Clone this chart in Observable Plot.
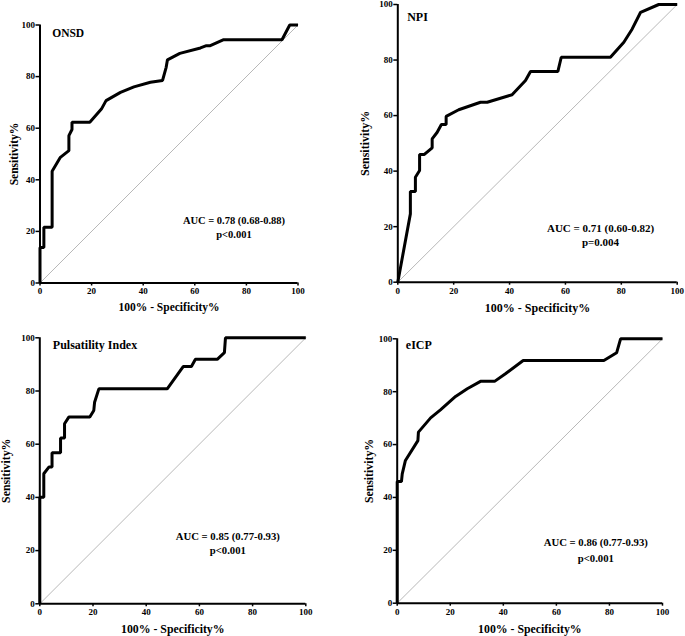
<!DOCTYPE html>
<html><head><meta charset="utf-8">
<script src="https://cdn.jsdelivr.net/npm/d3@7"></script>
<script src="https://cdn.jsdelivr.net/npm/@observablehq/plot@0.6"></script>
<style>
body{margin:0;background:#fff;}
#root{position:relative;width:685px;height:636px;overflow:hidden;background:#fff;}
.panel{position:absolute;}
.panel svg{overflow:visible;display:block;max-width:none;}
</style></head><body><div id="root"></div>
<script>
// ---- data ----
const ticks = [0, 20, 40, 60, 80, 100];
const diagonal = [0, 100];
const xTitle = "100% - Specificity%";
const yTitle = "Sensitivity%";

const onsdFpr  = [0,0,1.5,1.5,4.7,4.7,7.9,11.2,11.2,12.4,12.4,19.3,23.8,25.6,31.2,36.4,42.8,47.5,48.9,49.4,54.2,62.2,64.5,66,71.2,93.8,96.8,100];
const onsdSens = [0,13.8,13.8,21.6,21.6,43.3,48.7,51.3,57.1,59.5,62.3,62.3,67.4,70.7,73.9,76,77.8,78.5,83.6,86.5,89,91.1,92,92,94.3,94.3,100,100];

const npiFpr  = [0,4.5,4.5,6.3,6.3,7.8,7.8,9.5,12.3,12.3,14.1,15.6,17.3,17.3,21.8,29.6,32,40.9,45.7,47.5,57.3,58.5,76.1,80.9,83.9,86.9,93.4,100];
const npiSens = [0,24.6,32.7,32.7,37.8,40.2,46,46,48.4,51.6,54,56.8,56.8,59.7,62.1,64.8,64.8,67.5,72.6,75.9,75.9,81,81,86.4,91.2,97.2,100,100];

const piFpr  = [0,0,1.5,1.5,3.4,4.6,4.6,7.8,7.8,9.3,9.3,10.9,18.8,20.3,20.6,22.2,47.9,53.9,57,58.5,66.7,69.4,69.8,100];
const piSens = [0,40.1,40.1,48.9,51.4,51.4,56.8,56.8,62.3,62.3,67.7,70.2,70.2,72.7,75.8,80.8,80.8,89.2,89.2,91.9,91.9,94.4,100,100];

const eicpFpr  = [0,0,1.6,1.9,3.1,7.8,8,12.6,16.3,22,26.4,31.4,36.7,40.8,47.5,77.9,82.7,84.2,100];
const eicpSens = [0,46,46,48.9,54,61.5,64.7,70.1,73.1,78.2,81.1,83.9,83.9,86.8,91.8,91.8,94.7,100,100];

const panelNames = ["ONSD", "NPI", "Pulsatility Index", "eICP"];
const aucLines = ["AUC = 0.78 (0.68-0.88)", "AUC = 0.71 (0.60-0.82)", "AUC = 0.85 (0.77-0.93)", "AUC = 0.86 (0.77-0.93)"];
const pLines = ["p<0.001", "p=0.004", "p<0.001", "p<0.001"];
const fprs = [onsdFpr, npiFpr, piFpr, eicpFpr];
const senss = [onsdSens, npiSens, piSens, eicpSens];

// ---- layout ----
const layout = [
  {left:0,   top:0,   w:340, h:320, mL:39.5, mR:42.5, mT:24.5, mB:37.5, nameDx:12.2, nameDy:8.8, nameSize:11.5, aucDx:194, aucDy:195.5, pDy:209.8, aucSize:10.5, xtDy:24.2, ytDx:-25.5, titleSize:11.5},
  {left:340, top:0,   w:345, h:320, mL:57.3, mR:8.3,  mT:4,    mB:38.3, nameDx:9.4,  nameDy:12.7, nameSize:12, aucDx:202.7, aucDy:223.7, pDy:237.7, aucSize:11, xtDy:26.3, ytDx:-32.3, titleSize:12},
  {left:0,   top:320, w:340, h:316, mL:39.3, mR:34.7, mT:17.3, mB:32.7, nameDx:13,   nameDy:7.7, nameSize:12, aucDx:188, aucDy:198.7, pDy:212.7, aucSize:10.7, xtDy:25, ytDx:-33.5, titleSize:11.8},
  {left:340, top:320, w:345, h:316, mL:56.7, mR:23,   mT:18.3, mB:33.3, nameDx:8.6,  nameDy:6.7, nameSize:12, aucDx:198.6, aucDy:204, pDy:220, aucSize:10.7, xtDy:25.6, ytDx:-28.4, titleSize:11.8}
];

const FONT = "'Liberation Serif', 'Times New Roman', serif";
const root = document.getElementById("root");

layout.forEach((L, i) => {
  const pts = fprs[i].map((x, j) => ({x, y: senss[i][j]}));
  const chart = Plot.plot({
    width: L.w, height: L.h,
    marginLeft: L.mL, marginRight: L.mR, marginTop: L.mT, marginBottom: L.mB,
    x: {domain: [0, 100], axis: null},
    y: {domain: [0, 100], axis: null},
    style: {fontFamily: FONT, fontWeight: "bold", background: "transparent", color: "black", overflow: "visible"},
    marks: [
      Plot.line(diagonal, {x: d => d, y: d => d, stroke: "#888", strokeWidth: 0.6}),
      Plot.axisX({ticks, tickSize: 3, tickPadding: 2, fontSize: 9, fontWeight: "bold", strokeWidth: 1.5, label: null}),
      Plot.axisY({ticks, tickSize: 4, tickPadding: 1, fontSize: 9, fontWeight: "bold", strokeWidth: 1.5, label: null}),
      Plot.ruleX([0], {stroke: "black", strokeWidth: 2}),
      Plot.ruleY([0], {stroke: "black", strokeWidth: 2}),
      Plot.line(pts, {x: "x", y: "y", stroke: "black", strokeWidth: 3, strokeLinejoin: "miter", strokeLinecap: "butt"}),
      Plot.text([panelNames[i]], {frameAnchor: "top-left", dx: L.nameDx, dy: L.nameDy, textAnchor: "start", lineAnchor: "middle", fontSize: L.nameSize, fontWeight: "bold"}),
      Plot.text([aucLines[i]], {frameAnchor: "top-left", dx: L.aucDx, dy: L.aucDy, textAnchor: "middle", lineAnchor: "middle", fontSize: L.aucSize, fontWeight: "bold"}),
      Plot.text([pLines[i]], {frameAnchor: "top-left", dx: L.aucDx, dy: L.pDy, textAnchor: "middle", lineAnchor: "middle", fontSize: L.aucSize, fontWeight: "bold"}),
      Plot.text([xTitle], {frameAnchor: "bottom", dy: L.xtDy, textAnchor: "middle", lineAnchor: "middle", fontSize: L.titleSize, fontWeight: "bold"}),
      Plot.text([yTitle], {frameAnchor: "left", dx: L.ytDx, rotate: -90, textAnchor: "middle", lineAnchor: "middle", fontSize: L.titleSize, fontWeight: "bold"})
    ]
  });
  const div = document.createElement("div");
  div.className = "panel";
  div.style.left = L.left + "px";
  div.style.top = L.top + "px";
  div.appendChild(chart);
  root.appendChild(div);
});
</script>
</body></html>
